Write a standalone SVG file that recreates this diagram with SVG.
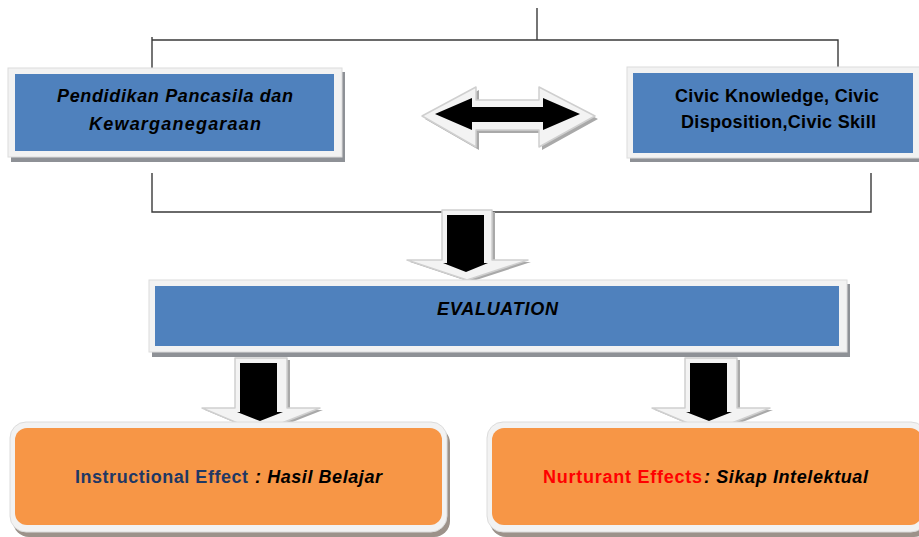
<svg xmlns="http://www.w3.org/2000/svg" width="919" height="537" viewBox="0 0 919 537">
  <defs>
    <style>
      .wire { fill: none; stroke: #3a3a3a; stroke-width: 1.4; }
      .frame { fill: #f2f2f2; stroke: #dcdcdc; stroke-width: 1; }
      .shadow { fill: #8e9196; }
      .shadow-o { fill: #9c928a; }
      .blue { fill: #4f81bd; }
      .orange { fill: #f79646; }
      .arrow-bevel { fill: #f3f3f3; stroke: #cfcfcf; stroke-width: 1.5; stroke-linejoin: round; }
      .arrow-shade { fill: #a9a9a9; }
      .arrow-core { fill: #000; }
      .lbl { font-family: "Liberation Sans", Arial, sans-serif; font-weight: bold; font-size: 18px; fill: #000; }
      .it { font-style: italic; }
      .navy { fill: #1f3864; }
      .red { fill: #ff0000; }
    </style>
  </defs>

  <rect width="919" height="537" fill="#ffffff"/>

  <!-- connector lines -->
  <g id="connectors">
    <path class="wire" d="M537,8 V40"/>
    <path class="wire" d="M152,37 V68"/>
    <path class="wire" d="M152,40 H838 V72"/>
    <path class="wire" d="M152,173 V212 H871 V173"/>
  </g>

  <!-- top-left node -->
  <g id="node-ppkn">
    <rect class="shadow" x="11" y="72" width="334" height="90"/>
    <rect class="frame" x="8" y="68" width="334" height="89"/>
    <rect class="blue" x="15" y="74" width="319" height="77"/>
    <text class="lbl it" x="57" y="102" textLength="236" lengthAdjust="spacing">Pendidikan Pancasila dan</text>
    <text class="lbl it" x="89" y="130" textLength="172" lengthAdjust="spacing">Kewarganegaraan</text>
  </g>

  <!-- top-right node -->
  <g id="node-civic">
    <rect class="shadow" x="630" y="71" width="300" height="91"/>
    <rect class="frame" x="627" y="67" width="300" height="91"/>
    <rect class="blue" x="633" y="73" width="280" height="80"/>
    <text class="lbl" x="675" y="102" textLength="204" lengthAdjust="spacing">Civic Knowledge, Civic</text>
    <text class="lbl" x="681" y="128" textLength="195" lengthAdjust="spacing">Disposition,Civic Skill</text>
  </g>

  <!-- two-way arrow between the top nodes -->
  <g id="arrow-both">
    <polygon class="arrow-shade" points="425,119 479,90 479,103 542,103 542,90 598,119 542,150 542,133 479,133 479,150"/>
    <polygon class="arrow-bevel" points="422,116 476,87 476,100 539,100 539,87 595,116 539,147 539,130 476,130 476,147"/>
    <polygon class="arrow-core" points="435,114 472,98 472,107 543,107 543,98 580,114 543,130 543,122 472,122 472,130"/>
  </g>

  <!-- arrow into evaluation -->
  <g id="arrow-eval">
    <polygon class="arrow-shade" points="445,212 495,212 495,262 531,262 470,282 410,262 445,262"/>
    <polygon class="arrow-bevel" points="442,210 492,210 492,260 528,260 467,280 407,260 442,260"/>
    <polygon class="arrow-core" points="447,215 484,215 484,263 488,263 466,272 443,263 447,263"/>
  </g>

  <!-- evaluation node -->
  <g id="node-evaluation">
    <rect class="shadow" x="152" y="284" width="698" height="73"/>
    <rect class="frame" x="149" y="280" width="698" height="72"/>
    <rect class="blue" x="155" y="286" width="684" height="60"/>
    <text class="lbl it" x="437" y="315" textLength="121" lengthAdjust="spacing">EVALUATION</text>
  </g>

  <!-- arrows out of evaluation -->
  <g id="arrow-left">
    <polygon class="arrow-shade" points="238,360 290,360 290,410 323,410 262,434 205,410 238,410"/>
    <polygon class="arrow-bevel" points="235,358 287,358 287,408 320,408 259,432 202,408 235,408"/>
    <polygon class="arrow-core" points="240,363 277,363 277,412 283,412 260,421 237,412 240,412"/>
  </g>
  <g id="arrow-right">
    <polygon class="arrow-shade" points="688,360 740,360 740,410 773,410 712,434 655,410 688,410"/>
    <polygon class="arrow-bevel" points="685,358 737,358 737,408 770,408 709,432 652,408 685,408"/>
    <polygon class="arrow-core" points="690,363 727,363 727,412 732,412 709,421 686,412 690,412"/>
  </g>

  <!-- bottom-left node -->
  <g id="node-instructional">
    <rect class="shadow-o" x="13" y="427" width="437" height="110" rx="16"/>
    <rect class="frame" x="10" y="422" width="437" height="110" rx="16"/>
    <rect class="orange" x="15" y="428" width="427" height="97" rx="12"/>
    <text class="lbl navy" x="75" y="483" textLength="173" lengthAdjust="spacing">Instructional Effect</text>
    <text class="lbl it" x="255" y="483" textLength="127" lengthAdjust="spacing">: Hasil Belajar</text>
  </g>

  <!-- bottom-right node -->
  <g id="node-nurturant">
    <rect class="shadow-o" x="490" y="427" width="440" height="110" rx="16"/>
    <rect class="frame" x="487" y="422" width="440" height="110" rx="16"/>
    <rect class="orange" x="492" y="428" width="430" height="97" rx="12"/>
    <text class="lbl red" x="543" y="483" textLength="159" lengthAdjust="spacing">Nurturant Effects</text>
    <text class="lbl it" x="704" y="483" textLength="164" lengthAdjust="spacing">: Sikap Intelektual</text>
  </g>
</svg>
